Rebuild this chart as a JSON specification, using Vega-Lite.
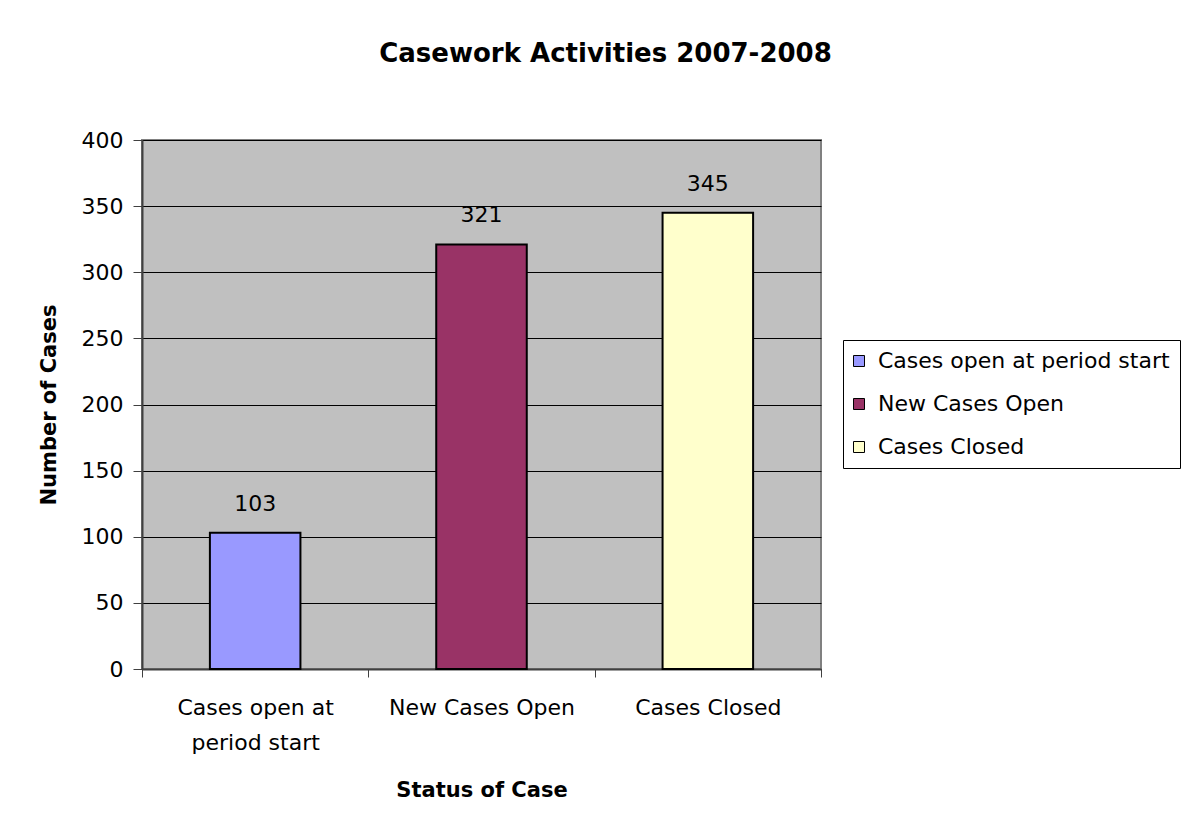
{
  "$schema": "https://vega.github.io/schema/vega-lite/v6.json",
  "autosize": {"type": "none"},
  "padding": {"left": 142, "top": 140, "right": 369, "bottom": 163},
  "width": 679,
  "height": 529,
  "background": "white",
  "title": {
    "text": "Casework Activities 2007-2008",
    "font": "DejaVu Sans",
    "fontSize": 26,
    "fontWeight": "bold",
    "color": "black",
    "anchor": "middle",
    "frame": "group",
    "dx": 124,
    "offset": 62
  },
  "data": {
    "values": [
      {"status": "Cases open at period start", "cases": 103},
      {"status": "New Cases Open", "cases": 321},
      {"status": "Cases Closed", "cases": 345}
    ]
  },
  "config": {
    "font": "DejaVu Sans",
    "view": {"fill": "#C0C0C0", "stroke": "#808080", "strokeWidth": 2}
  },
  "encoding": {
    "x": {
      "field": "status",
      "type": "nominal",
      "sort": null,
      "scale": {"paddingInner": 0, "paddingOuter": 0},
      "axis": {
        "title": "Status of Case",
        "titleFont": "DejaVu Sans",
        "titleFontSize": 21,
        "titleFontWeight": "bold",
        "titleColor": "black",
        "titlePadding": 26,
        "labelAngle": 0,
        "labelFont": "DejaVu Sans",
        "labelFontSize": 22,
        "labelColor": "black",
        "labelPadding": 20,
        "labelLineHeight": 35,
        "labelLimit": 400,
        "labelExpr": "datum.label == 'Cases open at period start' ? ['Cases open at', 'period start'] : datum.label",
        "tickBand": "extent",
        "tickSize": 8,
        "tickColor": "#404040",
        "tickWidth": 1,
        "domainColor": "#404040",
        "domainWidth": 2,
        "grid": false
      }
    }
  },
  "layer": [
    {
      "mark": {"type": "bar", "width": {"band": 0.4}, "stroke": "black", "strokeWidth": 2},
      "encoding": {
        "y": {
          "field": "cases",
          "type": "quantitative",
          "scale": {"domain": [0, 400]},
          "axis": {
            "title": "Number of Cases",
            "titleFont": "DejaVu Sans",
            "titleFontSize": 21,
            "titleFontWeight": "bold",
            "titleColor": "black",
            "titlePadding": 22,
            "values": [0, 50, 100, 150, 200, 250, 300, 350, 400],
            "labelFont": "DejaVu Sans",
            "labelFontSize": 22,
            "labelColor": "black",
            "labelPadding": 10,
            "tickSize": 9,
            "tickColor": "#404040",
            "domainColor": "#404040",
            "domainWidth": 2,
            "grid": true,
            "gridColor": "black",
            "gridWidth": 1,
            "gridOpacity": 1
          }
        },
        "color": {
          "field": "status",
          "type": "nominal",
          "sort": null,
          "scale": {
            "domain": ["Cases open at period start", "New Cases Open", "Cases Closed"],
            "range": ["#9999FF", "#993366", "#FFFFCC"]
          },
          "legend": {
            "title": null,
            "orient": "none",
            "legendX": 701,
            "legendY": 200,
            "strokeColor": "black",
            "fillColor": "white",
            "padding": 10,
            "symbolType": "square",
            "symbolSize": 121,
            "symbolOffset": -5,
            "symbolStrokeColor": "black",
            "symbolStrokeWidth": 1,
            "symbolOpacity": 1,
            "labelFont": "DejaVu Sans",
            "labelFontSize": 22,
            "labelColor": "black",
            "labelOffset": 8,
            "rowPadding": 21,
            "labelLimit": 400
          }
        }
      }
    },
    {
      "mark": {"type": "text", "font": "DejaVu Sans", "fontSize": 22, "color": "black", "baseline": "alphabetic", "dy": -22},
      "encoding": {
        "y": {"field": "cases", "type": "quantitative"},
        "text": {"field": "cases", "type": "quantitative"}
      }
    }
  ]
}
